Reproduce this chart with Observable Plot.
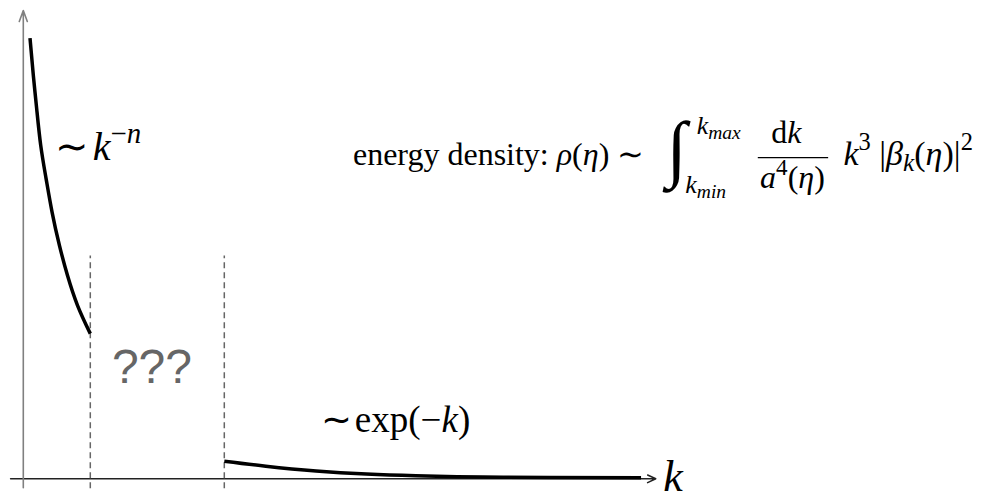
<!DOCTYPE html>
<html>
<head>
<meta charset="utf-8">
<script src="https://cdn.jsdelivr.net/npm/d3@7"></script>
<script src="https://cdn.jsdelivr.net/npm/@observablehq/plot@0.6"></script>
<style>
  html, body { margin: 0; padding: 0; background: #fff; }
  #chart svg { display: block; }
</style>
</head>
<body>
<div id="chart"></div>
<script>
// Edges of the unknown band in wavenumber k
const kBand = [1, 3];

// Low-k branch, falling as a power law ~ k^-n
const powerK   = [0.10, 0.15, 0.20, 0.26, 0.34, 0.43, 0.54, 0.66, 0.81, 1.0];
const powerRho = [9.41, 8.61, 7.90, 7.12, 6.41, 5.69, 4.98, 4.34, 3.70, 3.10];

// High-k branch, exponentially suppressed ~ exp(-k)
const expK   = [3.0, 3.62, 4.37, 5.12, 5.86, 6.86, 7.85, 9.22];
const expRho = [0.376, 0.27, 0.167, 0.10, 0.064, 0.038, 0.028, 0.02];

const powerBranch = powerK.map((k, i) => ({k, rho: powerRho[i]}));
const expBranch = expK.map((k, i) => ({k, rho: expRho[i]}));

const serif = "Liberation Serif, Times New Roman, serif";
const hair = "\u200A";

const plot = Plot.plot({
  width: 988,
  height: 500,
  x: {domain: [0, 10], range: [22.8, 692.8], axis: null},
  y: {domain: [0, 10], range: [478.3, 10], axis: null},
  marks: [
    // axes with arrowheads
    Plot.arrow([0], {x1: -0.19, x2: 9.44, y1: 0, y2: 0, stroke: "#222", strokeWidth: 1.5, headLength: 9, headAngle: 50}),
    Plot.arrow([0], {x1: 0, x2: 0, y1: -0.19, y2: 10, stroke: "#808080", strokeWidth: 1.6, headLength: 11, headAngle: 40}),
    // band edges
    Plot.ruleX(kBand, {y1: -0.21, y2: 4.76, stroke: "#666", strokeWidth: 1.5, strokeDasharray: "6,4"}),
    // the two branches of the spectrum
    Plot.line(powerBranch, {x: "k", y: "rho", stroke: "#000", strokeWidth: 3.5, curve: "natural", strokeLinecap: "butt"}),
    Plot.line(expBranch, {x: "k", y: "rho", stroke: "#000", strokeWidth: 3.5, curve: "natural", strokeLinecap: "butt"}),
    // annotations
    Plot.text([`∼${hair}*k*^−*n*^`], {x: 0.48, y: 6.80, textAnchor: "start", lineAnchor: "bottom", fontSize: 40, fontFamily: serif, fill: "#000"}),
    Plot.text(["???"], {x: 1.92, y: 2.04, textAnchor: "middle", lineAnchor: "bottom", fontSize: 48, fontFamily: "Liberation Sans, Arial, sans-serif", fill: "#666"}),
    Plot.text([`∼${hair}exp(−*k*)`], {x: 4.44, y: 0.99, textAnchor: "start", lineAnchor: "bottom", fontSize: 37, fontFamily: serif, fill: "#000"}),
    Plot.text(["*k*"], {x: 9.55, y: -0.25, textAnchor: "start", lineAnchor: "bottom", fontSize: 44, fontFamily: serif, fill: "#000"}),
    // energy density formula
    Plot.text(["energy density: *ρ*(*η*) ∼"], {x: 4.92, y: 6.71, textAnchor: "start", lineAnchor: "bottom", fontSize: 32, fontFamily: serif, fill: "#000"}),
    Plot.text(["∫"], {x: 9.60, y: 6.54, textAnchor: "start", lineAnchor: "bottom", fontSize: 74, fontStyle: "italic", fontFamily: serif, fill: "#000"}),
    Plot.text(["*k*_*max*_"], {x: 10.05, y: 7.37, textAnchor: "start", lineAnchor: "bottom", fontSize: 26, fontFamily: serif, fill: "#000"}),
    Plot.text(["*k*_*min*_"], {x: 9.88, y: 6.11, textAnchor: "start", lineAnchor: "bottom", fontSize: 26, fontFamily: serif, fill: "#000"}),
    Plot.text(["d*k*"], {x: 11.39, y: 7.18, textAnchor: "middle", lineAnchor: "bottom", fontSize: 32, fontFamily: serif, fill: "#000"}),
    Plot.ruleY([6.86], {x1: 10.97, x2: 12.02, stroke: "#000", strokeWidth: 1.3}),
    Plot.text(["*a*^4^(*η*)"], {x: 11.48, y: 6.20, textAnchor: "middle", lineAnchor: "bottom", fontSize: 32, fontFamily: serif, fill: "#000"}),
    Plot.text(["*k*^3^ |*β*_*k*_(*η*)|^2^"], {x: 12.24, y: 6.71, textAnchor: "start", lineAnchor: "bottom", fontSize: 34, fontFamily: serif, fill: "#000"})
  ]
});

document.getElementById("chart").appendChild(plot);

// Turn the light markup (*italic*, ^superscript^, _subscript_) into tspans
function richText(svg) {
  const NS = "http://www.w3.org/2000/svg";
  svg.querySelectorAll("text").forEach(el => {
    const src = el.textContent;
    if (!/[*^_]/.test(src)) return;
    const base = parseFloat(getComputedStyle(el).fontSize);
    el.textContent = "";
    let italic = false, sup = false, sub = false, shift = 0, run = "";
    const flush = () => {
      if (!run) return;
      const t = document.createElementNS(NS, "tspan");
      const target = sup ? -0.43 * base : sub ? 0.2 * base : 0;
      if (target !== shift) t.setAttribute("dy", target - shift);
      shift = target;
      if (italic) t.setAttribute("font-style", "italic");
      if (sup) t.setAttribute("font-size", 0.72 * base);
      if (sub) t.setAttribute("font-size", 0.75 * base);
      t.textContent = run;
      el.appendChild(t);
      run = "";
    };
    for (const c of src) {
      if (c === "*") { flush(); italic = !italic; }
      else if (c === "^") { flush(); sup = !sup; }
      else if (c === "_") { flush(); sub = !sub; }
      else run += c;
    }
    flush();
  });
}
richText(plot);
</script>
</body>
</html>
